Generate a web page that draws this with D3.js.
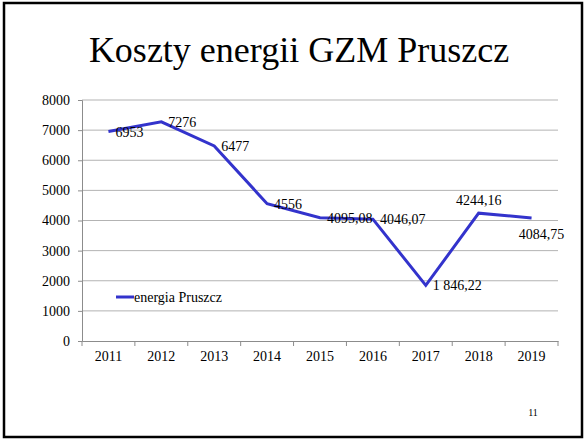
<!DOCTYPE html>
<html>
<head>
<meta charset="utf-8">
<script src="https://cdn.jsdelivr.net/npm/d3@7"></script>
<style>
  body { margin: 0; background: #fff; }
  text { font-family: "Liberation Serif", "Times New Roman", serif; fill: #000; }
</style>
</head>
<body>
<svg id="chart" width="585" height="439"></svg>
<script>
// chart data
var years = ["2011", "2012", "2013", "2014", "2015", "2016", "2017", "2018", "2019"];
var values = [6953, 7276, 6477, 4556, 4095.08, 4046.07, 1846.22, 4244.16, 4084.75];
var valueLabels = ["6953", "7276", "6477", "4556", "4095,08", "4046,07", "1 846,22", "4244,16", "4084,75"];
var yTicks = [0, 1000, 2000, 3000, 4000, 5000, 6000, 7000, 8000];
var seriesName = "energia Pruszcz";
var title = "Koszty energii GZM Pruszcz";

// where each data label sits relative to its point
var labelPos = ["right", "right", "right", "right", "right", "right", "right", "above", "below"];

var lineColor = "#3333cc";
var svg = d3.select("#chart");

// slide frame
svg.append("rect")
  .attr("x", 4).attr("y", 3)
  .attr("width", 578).attr("height", 434)
  .attr("fill", "none").attr("stroke", "#000").attr("stroke-width", 2.5);

svg.append("text")
  .attr("x", 299).attr("y", 62)
  .attr("text-anchor", "middle")
  .style("font-size", "36px")
  .text(title);

var x = d3.scaleBand().domain(years).range([82, 558]);
var y = d3.scaleLinear().domain([0, 8000]).range([341, 100]);

// gridlines
svg.append("g").selectAll("line")
  .data(yTicks.filter(function(d) { return d > 0; }))
  .enter().append("line")
  .attr("x1", 82).attr("x2", 558)
  .attr("y1", function(d) { return y(d); })
  .attr("y2", function(d) { return y(d); })
  .attr("stroke", "#b3b3b3").attr("stroke-width", 1);

// y axis
var yAxis = svg.append("g")
  .attr("transform", "translate(82,0)")
  .call(d3.axisLeft(y).tickValues(yTicks).tickSize(4).tickPadding(8).tickFormat(d3.format("d")));
yAxis.selectAll("path, line").attr("stroke", "#8c8c8c");
yAxis.selectAll("text").style("font-size", "14px").attr("font-family", null);

// x axis, ticks between the categories
var xAxis = svg.append("g")
  .attr("transform", "translate(0,341)")
  .call(d3.axisBottom(x).tickSize(0).tickPadding(10));
xAxis.select("path").attr("stroke", "#8c8c8c");
xAxis.selectAll("text").style("font-size", "14px").attr("font-family", null);
xAxis.selectAll(".bound")
  .data(years.concat(["end"]))
  .enter().append("line")
  .attr("class", "bound")
  .attr("x1", function(d, i) { return 82 + i * x.bandwidth(); })
  .attr("x2", function(d, i) { return 82 + i * x.bandwidth(); })
  .attr("y1", 0).attr("y2", 5)
  .attr("stroke", "#8c8c8c");

function cx(i) { return x(years[i]) + x.bandwidth() / 2; }

var line = d3.line()
  .x(function(d, i) { return cx(i); })
  .y(function(d) { return y(d); });

svg.append("path")
  .datum(values)
  .attr("d", line)
  .attr("fill", "none")
  .attr("stroke", lineColor)
  .attr("stroke-width", 3)
  .attr("stroke-linejoin", "miter");

// data labels
svg.append("g").selectAll("text")
  .data(values)
  .enter().append("text")
  .style("font-size", "14px")
  .attr("x", function(d, i) {
    if (labelPos[i] == "right") return cx(i) + 7;
    if (labelPos[i] == "below") return cx(i) + 10;
    return cx(i);
  })
  .attr("y", function(d, i) {
    if (labelPos[i] == "above") return y(d) - 8;
    if (labelPos[i] == "below") return y(d) + 21;
    return y(d) + 5;
  })
  .attr("text-anchor", function(d, i) { return labelPos[i] == "right" ? "start" : "middle"; })
  .text(function(d, i) { return valueLabels[i]; });

// legend
svg.append("line")
  .attr("x1", 116).attr("x2", 134)
  .attr("y1", 297).attr("y2", 297)
  .attr("stroke", lineColor).attr("stroke-width", 3);
svg.append("text")
  .attr("x", 134).attr("y", 302)
  .style("font-size", "14px")
  .text(seriesName);

// slide number
svg.append("text")
  .attr("x", 533).attr("y", 416)
  .attr("text-anchor", "middle")
  .style("font-size", "10px")
  .text("11");
</script>
</body>
</html>
